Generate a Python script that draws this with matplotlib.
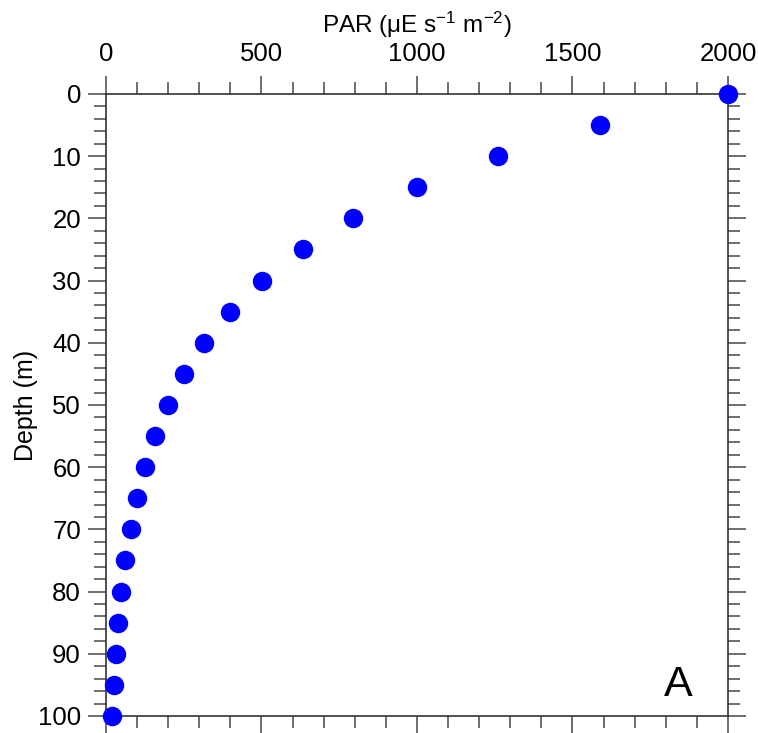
import numpy as np
import matplotlib.pyplot as plt
from matplotlib.ticker import MultipleLocator

plt.rcParams['font.family'] = ['Liberation Sans', 'DejaVu Sans']
plt.rcParams['mathtext.fontset'] = 'custom'
plt.rcParams['mathtext.rm'] = 'Liberation Sans'
plt.rcParams['mathtext.it'] = 'Liberation Sans:italic'

# values
depth = [0, 5, 10, 15, 20, 25, 30, 35, 40, 45, 50,
         55, 60, 65, 70, 75, 80, 85, 90, 95, 100]
par = [2000, 1590, 1260, 1000, 795, 632, 502, 398, 316, 251, 200,
       158, 126, 100, 79, 62, 49, 39, 32, 26, 20]

fig = plt.figure(figsize=(7.58, 7.33), dpi=100)
ax = fig.add_axes([0.1398, 0.0232, 0.8206, 0.8486])

ax.plot(par, depth, 'o', color='#0000ff', markersize=14, markeredgewidth=0,
        clip_on=False, zorder=5)

ax.set_xlim(0, 2000)
ax.set_ylim(100, 0)
ax.xaxis.set_major_locator(MultipleLocator(500))
ax.xaxis.set_minor_locator(MultipleLocator(100))
ax.yaxis.set_major_locator(MultipleLocator(10))
ax.yaxis.set_minor_locator(MultipleLocator(2))

ax.xaxis.set_label_position('top')
ax.tick_params(axis='both', which='both', direction='out', color='#555555',
               top=True, bottom=True, left=True, right=True,
               labeltop=True, labelbottom=False, labelleft=True, labelright=False,
               labelsize=18.5)
ax.tick_params(which='major', length=13, width=1.2)
ax.tick_params(which='minor', length=8.5, width=1.2)
ax.tick_params(axis='x', which='major', pad=7)
ax.tick_params(axis='y', which='major', pad=5)

for s in ax.spines.values():
    s.set_color('#333333')
    s.set_linewidth(1.2)

ax.set_xlabel(r'PAR ($\mathregular{\mu}$E s$^{\mathregular{-1}}$ m$^{\mathregular{-2}}$)',
              fontsize=17.5, labelpad=7)
ax.set_ylabel('Depth (m)', fontsize=18, labelpad=0)

ax.text(0.92, 0.05, 'A', transform=ax.transAxes, fontsize=31,
        ha='center', va='center')

fig.savefig('out.png', dpi=100)
